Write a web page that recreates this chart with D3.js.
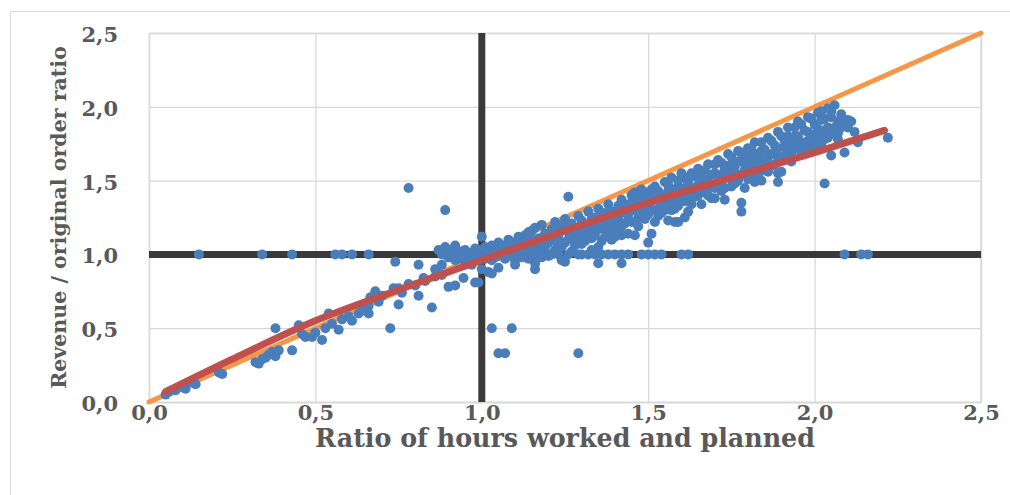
<!DOCTYPE html>
<html><head><meta charset="utf-8">
<script src="https://cdn.jsdelivr.net/npm/d3@7/dist/d3.min.js"></script>
<style>body{margin:0;background:#fff} svg{display:block}</style>
</head><body><svg id="c" width="1010" height="495"></svg>
<script>
// ---------- data ----------
const tickValues = [0, 0.5, 1.0, 1.5, 2.0, 2.5];
const tickLabels = ["0,0", "0,5", "1,0", "1,5", "2,0", "2,5"];
const xTitle = "Ratio of hours worked and planned";
const yTitle = "Revenue / original order ratio";
const targetX = 1.0;
const targetY = 1.0;
const diagonalX = [0, 2.5];
const diagonalY = [0, 2.5];
const trendX = [0.05, 0.25, 0.5, 0.75, 1.0, 1.25, 1.5, 1.75, 2.0, 2.21];
const trendY = [0.07, 0.29, 0.55, 0.76, 0.96, 1.16, 1.35, 1.52, 1.69, 1.84];
// points lying on revenue ratio 1.0
const onTargetX = [0.15, 0.34, 0.43, 0.56, 0.58, 0.61, 0.66, 0.88, 0.90, 0.92, 0.95, 0.97, 1.00, 1.03,
  1.06, 1.10, 1.13, 1.16, 1.20, 1.23, 1.26, 1.29, 1.32, 1.34, 1.36, 1.38, 1.40, 1.42, 1.44, 1.48,
  1.50, 1.52, 1.54, 1.60, 1.62, 2.09, 2.14, 2.16];
const lowerPoints = [[0.05,0.05],[0.06,0.07],[0.08,0.08],[0.10,0.10],[0.11,0.09],[0.13,0.13],[0.14,0.12],
  [0.21,0.20],[0.22,0.19],[0.32,0.27],[0.33,0.26],[0.34,0.29],[0.35,0.30],[0.36,0.32],[0.37,0.34],
  [0.38,0.31],[0.39,0.35],[0.38,0.50],[0.43,0.35],[0.45,0.52],[0.46,0.46],[0.47,0.44],[0.49,0.44],
  [0.50,0.47],[0.52,0.42],[0.53,0.50],[0.54,0.60],[0.55,0.53],[0.57,0.49],[0.58,0.56],[0.60,0.58],
  [0.61,0.55],[0.63,0.60],[0.64,0.62],[0.66,0.60],[0.665,0.71],[0.68,0.75],[0.70,0.72],[0.725,0.50],
  [0.735,0.77],[0.75,0.77],[0.75,0.66],[0.76,0.74],[0.78,0.80],[0.81,0.72],[0.825,0.84],[0.85,0.64],
  [0.87,0.87],[0.90,0.78],[0.92,0.79],[0.945,0.84],[0.98,0.81],[0.74,0.95],[0.81,0.93],[0.92,1.05],
  [0.80,0.79],[0.83,0.82],[0.86,0.85],[0.88,0.86],[0.66,0.65],[0.69,0.68]];
const centralPoints = [[0.90,0.98],[0.91,1.02],[0.92,0.96],[0.93,1.00],[0.94,0.99],[0.95,1.03],[0.95,0.95],
  [0.96,0.98],[0.97,1.01],[0.98,0.97],[0.98,1.04],[0.99,0.99],[1.00,1.02],[1.01,0.97],[1.01,1.05],
  [1.02,1.00],[1.03,0.96],[1.03,1.06],[1.04,1.02],[1.05,0.99],[1.05,1.08],[1.06,1.03],[1.07,0.97],
  [1.08,1.05],[1.08,1.10],[1.09,1.01],[1.10,1.07],[1.10,0.96],[0.88,0.93],[0.86,0.90],[0.87,1.03],
  [0.89,1.05],[0.92,1.06],[0.97,0.93],[1.00,0.90],[1.02,0.88]];
const upperPoints = [[1.11,1.12],[1.12,1.04],[1.12,0.98],[1.13,1.09],[1.14,1.15],[1.14,1.01],[1.15,1.06],
  [1.16,1.18],[1.16,0.94],[1.17,1.11],[1.18,1.04],[1.18,1.20],[1.19,1.14],[1.20,1.08],[1.20,0.99],
  [1.21,1.17],[1.22,1.22],[1.22,1.03],[1.23,1.12],[1.24,1.19],[1.24,0.96],[1.25,1.08],[1.25,1.24],
  [1.26,1.15],[1.27,1.21],[1.27,1.02],[1.28,1.11],[1.29,1.26],[1.29,1.18],[1.30,1.07],[1.30,1.23],
  [1.31,1.14],[1.32,1.29],[1.32,1.20],[1.33,1.03],[1.33,1.11],[1.34,1.25],[1.35,1.17],[1.35,1.31],
  [1.36,1.22],[1.36,1.09],[1.37,1.28],[1.38,1.15],[1.38,1.34],[1.39,1.20],[1.40,1.26],[1.40,1.12],
  [1.41,1.33],[1.42,1.19],[1.42,1.37],[1.43,1.28],[1.44,1.23],[1.44,1.14],[1.45,1.35],[1.45,1.40],
  [1.46,1.30],[1.47,1.25],[1.47,1.19],[1.48,1.38],[1.48,1.44],[1.49,1.32],[1.50,1.27],[1.50,1.42],
  [1.51,1.36],[1.52,1.22],[1.52,1.46],[1.53,1.31],[1.54,1.40],[1.54,1.28],[1.55,1.49],[1.55,1.35],
  [1.56,1.43],[1.57,1.30],[1.57,1.52],[1.58,1.38],[1.59,1.46],[1.59,1.33],[1.60,1.41],[1.60,1.55],
  [1.61,1.36],[1.62,1.49],[1.62,1.29],[1.63,1.44],[1.64,1.53],[1.64,1.39],[1.65,1.58],[1.65,1.47],
  [1.66,1.34],[1.67,1.51],[1.67,1.42],[1.68,1.61],[1.69,1.46],[1.69,1.38],[1.70,1.55],[1.71,1.49],
  [1.71,1.64],[1.72,1.43],[1.73,1.58],[1.73,1.52],[1.74,1.68],[1.75,1.46],[1.75,1.61],[1.76,1.55],
  [1.77,1.70],[1.77,1.50],[1.78,1.64],[1.79,1.57],[1.79,1.45],[1.80,1.72],[1.80,1.60],[1.81,1.53],
  [1.82,1.67],[1.82,1.76],[1.83,1.58],[1.84,1.70],[1.84,1.50],[1.85,1.63],[1.86,1.79],[1.86,1.56],
  [1.87,1.68],[1.88,1.74],[1.88,1.61],[1.89,1.83],[1.90,1.66],[1.90,1.56],[1.91,1.77],[1.92,1.71],
  [1.92,1.86],[1.93,1.63],[1.94,1.80],[1.95,1.74],[1.95,1.90],[1.96,1.68],[1.97,1.84],[1.98,1.77],
  [1.98,1.93],[1.99,1.71],[2.00,1.88],[2.00,1.81],[2.01,1.96],[2.02,1.75],[2.02,1.91],[2.03,1.84],
  [2.04,1.99],[2.04,1.79],[2.05,1.93],[2.06,1.86],[2.06,2.01],[2.07,1.82],[2.08,1.95],[2.09,1.89],
  [2.10,1.86],[2.11,1.90],[2.12,1.83],[2.13,1.76],[2.22,1.79],[2.05,1.67],[2.09,1.69],[2.03,1.48],
  [1.78,1.35],[1.78,1.29],[1.59,1.22],[1.61,1.25],[1.51,1.14],[1.46,1.13],[1.42,1.13],[1.56,1.23],
  [1.89,1.49],[1.89,1.55],[1.70,1.38],[1.73,1.37],[1.82,1.49],[1.42,0.94],[1.35,0.94],[1.50,1.08],
  [1.58,1.22],[1.16,0.90],[1.10,0.93],[1.25,0.95]];
const densePoints = [[1.11,1.03],[1.12,1.08],[1.13,1.13],[1.15,1.10],[1.15,1.16],[1.17,1.02],[1.17,1.07],
  [1.19,1.10],[1.19,1.05],[1.21,1.13],[1.21,1.00],[1.23,1.07],[1.23,1.16],[1.24,1.05],[1.26,1.10],
  [1.26,1.20],[1.28,1.16],[1.28,1.06],[1.29,1.13],[1.31,1.19],[1.31,1.09],[1.32,1.15],[1.33,1.24],
  [1.34,1.13],[1.34,1.19],[1.35,1.05],[1.36,1.27],[1.37,1.17],[1.37,1.12],[1.38,1.23],[1.39,1.29],
  [1.39,1.10],[1.40,1.18],[1.41,1.24],[1.41,1.16],[1.42,1.30],[1.43,1.21],[1.43,1.34],[1.44,1.27],
  [1.45,1.22],[1.46,1.36],[1.46,1.42],[1.47,1.31],[1.48,1.27],[1.49,1.40],[1.49,1.24],[1.50,1.34],
  [1.51,1.30],[1.51,1.44],[1.52,1.38],[1.53,1.26],[1.53,1.43],[1.54,1.34],[1.55,1.30],[1.56,1.39],
  [1.56,1.47],[1.57,1.35],[1.58,1.44],[1.58,1.31],[1.59,1.50],[1.60,1.37],[1.61,1.45],[1.61,1.52],
  [1.62,1.40],[1.63,1.34],[1.63,1.55],[1.64,1.45],[1.65,1.40],[1.66,1.52],[1.66,1.44],[1.67,1.57],
  [1.68,1.40],[1.68,1.49],[1.69,1.54],[1.70,1.45],[1.70,1.61],[1.71,1.54],[1.72,1.49],[1.72,1.62],
  [1.73,1.45],[1.74,1.55],[1.74,1.60],[1.75,1.51],[1.75,1.66],[1.76,1.59],[1.76,1.48],[1.77,1.63],
  [1.78,1.54],[1.78,1.69],[1.79,1.61],[1.80,1.51],[1.80,1.66],[1.81,1.58],[1.81,1.71],[1.82,1.62],
  [1.83,1.53],[1.83,1.68],[1.84,1.64],[1.84,1.76],[1.85,1.57],[1.85,1.71],[1.86,1.66],[1.87,1.60],
  [1.87,1.77],[1.88,1.68],[1.89,1.72],[1.89,1.63],[1.90,1.80],[1.91,1.67],[1.91,1.73],[1.92,1.80],
  [1.93,1.69],[1.93,1.76],[1.94,1.86],[1.94,1.72],[1.95,1.80],[1.96,1.76],[1.96,1.88],[1.97,1.72],
  [1.98,1.83],[1.99,1.78],[1.99,1.92],[2.00,1.74],[2.01,1.85],[2.01,1.80],[2.02,1.97],[2.03,1.78],
  [2.03,1.92],[2.04,1.86],[2.05,1.82],[2.05,1.97],[2.07,1.90],[2.07,1.78],[2.08,1.86],[2.10,1.91],
  [0.93,0.97],[0.94,1.02],[0.96,1.01],[0.99,1.03],[1.02,1.04],[1.04,0.98],[1.06,1.00],[1.07,1.06],
  [1.09,1.08],[1.09,0.99],[1.13,1.05],[1.14,0.97],[1.18,0.98],[1.22,1.09],[1.27,1.13],[1.30,1.00]];
const outlierPoints = [[0.78,1.45],[0.89,1.30],[1.00,1.12],[1.26,1.39],[1.03,0.50],[1.09,0.50],
  [1.05,0.33],[1.07,0.33],[1.29,0.33],[1.03,0.87],[1.05,0.91],[0.99,0.81]];

// ---------- layout ----------
const svg = d3.select("#c");
const padL = 149, padR = 981, padT = 33, padB = 402;
const x = d3.scaleLinear().domain([0, 2.5]).range([padL, padR]);
const y = d3.scaleLinear().domain([0, 2.5]).range([padB, padT]);
const textColor = "#595959";
const font = "'DejaVu Serif', serif";

svg.append("rect").attr("x", 10.5).attr("y", 11.5).attr("width", 1010).attr("height", 490)
  .attr("fill", "none").attr("stroke", "#d9d9d9").attr("stroke-width", 1);

const fmt = v => tickLabels[tickValues.indexOf(v)];

// gridlines + tick labels
const gx = svg.append("g").attr("transform", `translate(0,${padB})`)
  .call(d3.axisBottom(x).tickValues(tickValues).tickSize(-(padB - padT)).tickFormat(fmt).tickPadding(2));
const gy = svg.append("g").attr("transform", `translate(${padL},0)`)
  .call(d3.axisLeft(y).tickValues(tickValues).tickSize(-(padR - padL)).tickFormat(fmt).tickPadding(31));
[gx, gy].forEach(g => {
  g.select(".domain").attr("stroke", "#d9d9d9").attr("stroke-width", 1.3);
  g.selectAll(".tick line").attr("stroke", "#d9d9d9").attr("stroke-width", 1.3);
  g.selectAll(".tick text").attr("fill", textColor).attr("font-family", font)
    .attr("font-weight", "bold").attr("font-size", 21);
});
gx.selectAll(".tick text").attr("dy", "0.78em");
gy.selectAll(".tick text").attr("dy", "0.4em");
svg.append("line").attr("x1", padR).attr("x2", padR).attr("y1", padT).attr("y2", padB)
  .attr("stroke", "#d9d9d9").attr("stroke-width", 1.3);

// target lines
svg.append("line").attr("x1", x(targetX)).attr("x2", x(targetX)).attr("y1", y(2.5)).attr("y2", y(0))
  .attr("stroke", "#3a3a3a").attr("stroke-width", 7);
svg.append("line").attr("x1", x(0)).attr("x2", x(2.5)).attr("y1", y(targetY)).attr("y2", y(targetY))
  .attr("stroke", "#3a3a3a").attr("stroke-width", 7);

// diagonal
const lineGen = d3.line().x(d => x(d[0])).y(d => y(d[1]));
svg.append("path").datum(diagonalX.map((v, i) => [v, diagonalY[i]])).attr("d", lineGen)
  .attr("fill", "none").attr("stroke", "#f79646").attr("stroke-width", 5).attr("stroke-linecap", "round");

// points
const allPoints = [].concat(lowerPoints, centralPoints, upperPoints, densePoints, outlierPoints,
  onTargetX.map(v => [v, 1.0]));
svg.append("g").selectAll("circle").data(allPoints).join("circle")
  .attr("cx", d => x(d[0])).attr("cy", d => y(d[1])).attr("r", 5).attr("fill", "#4a7ebb");

// trend
svg.append("path").datum(trendX.map((v, i) => [v, trendY[i]]))
  .attr("d", lineGen.curve(d3.curveMonotoneX))
  .attr("fill", "none").attr("stroke", "#c0504d").attr("stroke-width", 7).attr("stroke-linecap", "round");

// titles (font size fitted to the reference text extents)
function fitText(sel, target) {
  const w = sel.node().getComputedTextLength();
  const fs = parseFloat(sel.attr("font-size"));
  sel.attr("font-size", fs * target / w);
}
const xt = svg.append("text").attr("x", (padL + padR) / 2).attr("y", 447).attr("text-anchor", "middle")
  .attr("fill", textColor).attr("font-family", font).attr("font-weight", "bold").attr("font-size", 22).text(xTitle);
fitText(xt, 500);
const yt = svg.append("text").attr("transform", `translate(66,${(padT + padB) / 2}) rotate(-90)`)
  .attr("text-anchor", "middle").attr("fill", textColor).attr("font-family", font)
  .attr("font-weight", "bold").attr("font-size", 22).text(yTitle);
fitText(yt, 343);
</script></body></html>
